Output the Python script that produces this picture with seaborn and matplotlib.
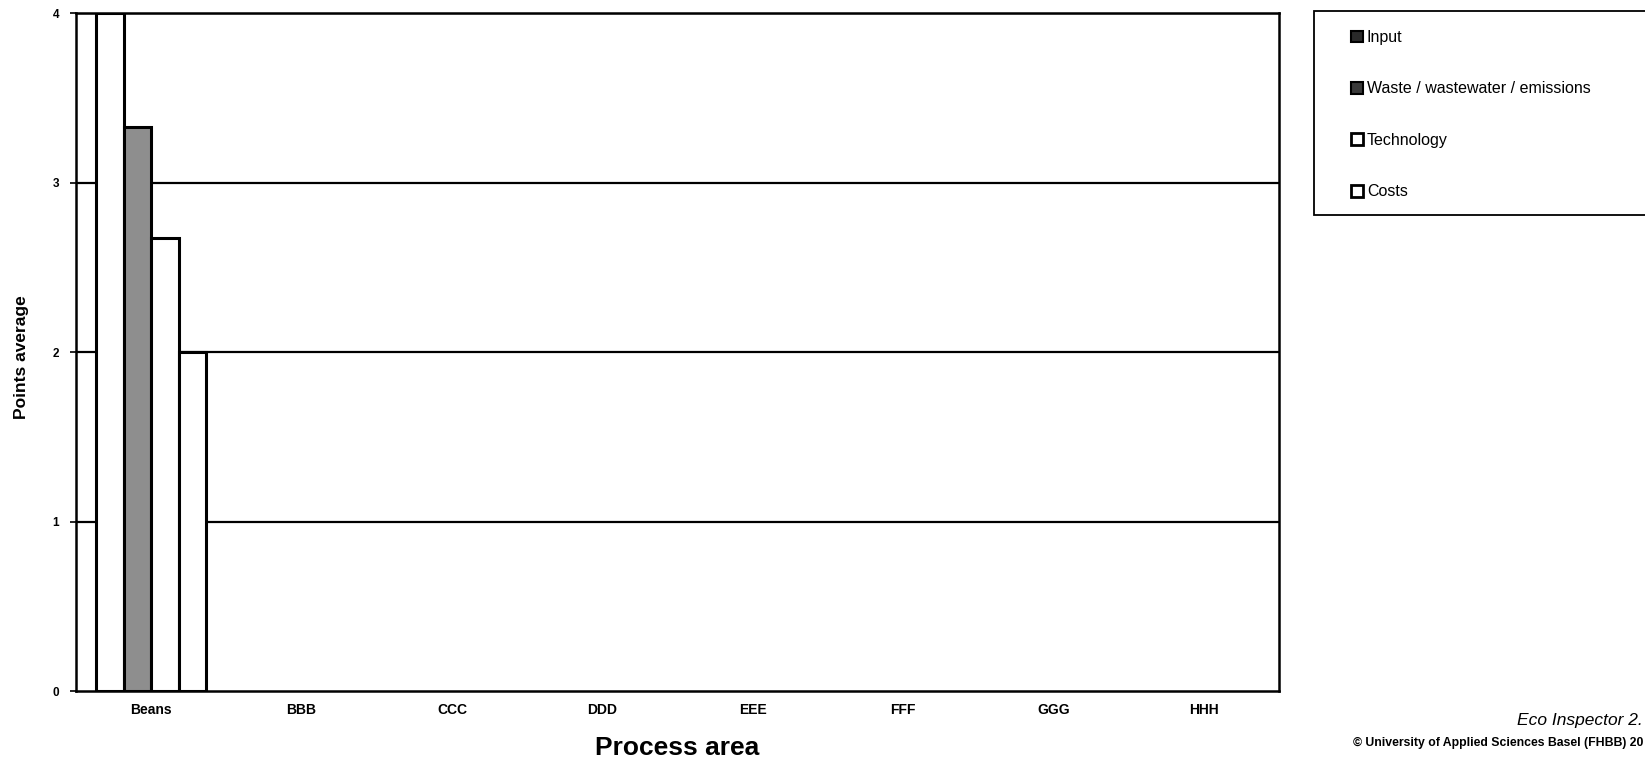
import numpy as np
import pandas as pd
import matplotlib
matplotlib.use("Agg")
import matplotlib.pyplot as plt
import seaborn as sns
from matplotlib.patches import Rectangle, Patch
from matplotlib.ticker import FixedLocator

# ---- data ----
categories = ["Beans", "BBB", "CCC", "DDD", "EEE", "FFF", "GGG", "HHH"]
series = ["Input", "Waste / wastewater / emissions", "Technology", "Costs"]
input_vals = [4.0, np.nan, np.nan, np.nan, np.nan, np.nan, np.nan, np.nan]
waste_vals = [3.33, np.nan, np.nan, np.nan, np.nan, np.nan, np.nan, np.nan]
tech_vals = [2.67, np.nan, np.nan, np.nan, np.nan, np.nan, np.nan, np.nan]
cost_vals = [2.0, np.nan, np.nan, np.nan, np.nan, np.nan, np.nan, np.nan]
y_ticks = [0, 1, 2, 3, 4]

rows = []
for s, vals in zip(series, [input_vals, waste_vals, tech_vals, cost_vals]):
    for c, v in zip(categories, vals):
        rows.append({"Process area": c, "Series": s, "Points average": v})
df = pd.DataFrame(rows)

sns.set_theme(style="white")
plt.rcParams["font.family"] = ["Liberation Sans", "DejaVu Sans"]
plt.rcParams["text.color"] = "black"
plt.rcParams["axes.labelcolor"] = "black"
plt.rcParams["xtick.color"] = "black"
plt.rcParams["ytick.color"] = "black"

fig = plt.figure(figsize=(16.45, 7.59), dpi=100)
ax = fig.add_axes([76 / 1645, 1 - 691 / 759, (1279 - 76) / 1645, (691 - 13) / 759])

palette = {"Input": "white", "Waste / wastewater / emissions": "#8e8e8e",
           "Technology": "white", "Costs": "white"}
sns.barplot(data=df, x="Process area", y="Points average", hue="Series",
            order=categories, hue_order=series, palette=palette,
            width=0.73, edgecolor="black", linewidth=2.2, saturation=1,
            errorbar=None, ax=ax, legend=False, zorder=3)

ax.set_xlim(-0.5, len(categories) - 0.5)
ax.set_ylim(0, 4)
ax.yaxis.set_major_locator(FixedLocator(y_ticks))
ax.set_yticklabels([str(t) for t in y_ticks], fontsize=8.5, fontweight="bold", color="black")
ax.set_xticks(range(len(categories)))
ax.set_xticklabels(categories, fontsize=10, fontweight="bold", color="black")
ax.xaxis.set_minor_locator(FixedLocator(np.arange(-0.5, len(categories), 1.0)))
ax.tick_params(axis="x", which="major", length=0, pad=9)
ax.tick_params(axis="x", which="minor", length=5, width=1.2, color="black", direction="out")
ax.tick_params(axis="y", which="major", length=4, width=1.2, color="black", direction="out",
               left=True, pad=8)

for yv in y_ticks[1:]:
    ax.axhline(yv, color="black", linewidth=1.6, zorder=1)

for sp in ax.spines.values():
    sp.set_visible(True)
    sp.set_color("black")
    sp.set_linewidth(1.8)
    sp.set_zorder(4)

ax.set_xlabel("")
ax.set_ylabel("")
fig.text((76 + 1279) / 2 / 1645, 4 / 759, "Process area", fontsize=19, fontweight="bold",
         ha="center", va="baseline", color="black")
fig.text(22 / 1645, 1 - 357 / 759, "Points average", fontsize=12.5, fontweight="bold",
         rotation=90, ha="center", va="center", color="black")

# legend
handles = [Patch(facecolor="#2a2a2a", edgecolor="black", linewidth=1.5),
           Patch(facecolor="#3a3a3a", edgecolor="black", linewidth=1.5),
           Patch(facecolor="white", edgecolor="black", linewidth=2.0),
           Patch(facecolor="white", edgecolor="black", linewidth=2.0)]
fig.patches.append(Rectangle((1314 / 1645, 1 - 215 / 759), 0.3, (215 - 11) / 759,
                             transform=fig.transFigure, facecolor="white",
                             edgecolor="black", linewidth=1.3, zorder=0))
leg = fig.legend(handles, series, loc="upper left", bbox_to_anchor=(1351 / 1645, 1 - 30 / 759),
                 frameon=False, fontsize=11.5, handlelength=0.75, handleheight=0.75,
                 handletextpad=0.25, labelspacing=2.28, borderaxespad=0, borderpad=0)
for t in leg.get_texts():
    t.set_color("black")

fig.text(1517 / 1645, 1 - 720 / 759, "Eco Inspector 2.", fontsize=12.5, style="italic",
         ha="left", va="center", color="black")
fig.text(1353 / 1645, 1 - 743 / 759, "\u00a9 University of Applied Sciences Basel (FHBB) 20",
         fontsize=8.8, fontweight="bold", ha="left", va="center", color="black")

fig.savefig("out.png", dpi=100)
